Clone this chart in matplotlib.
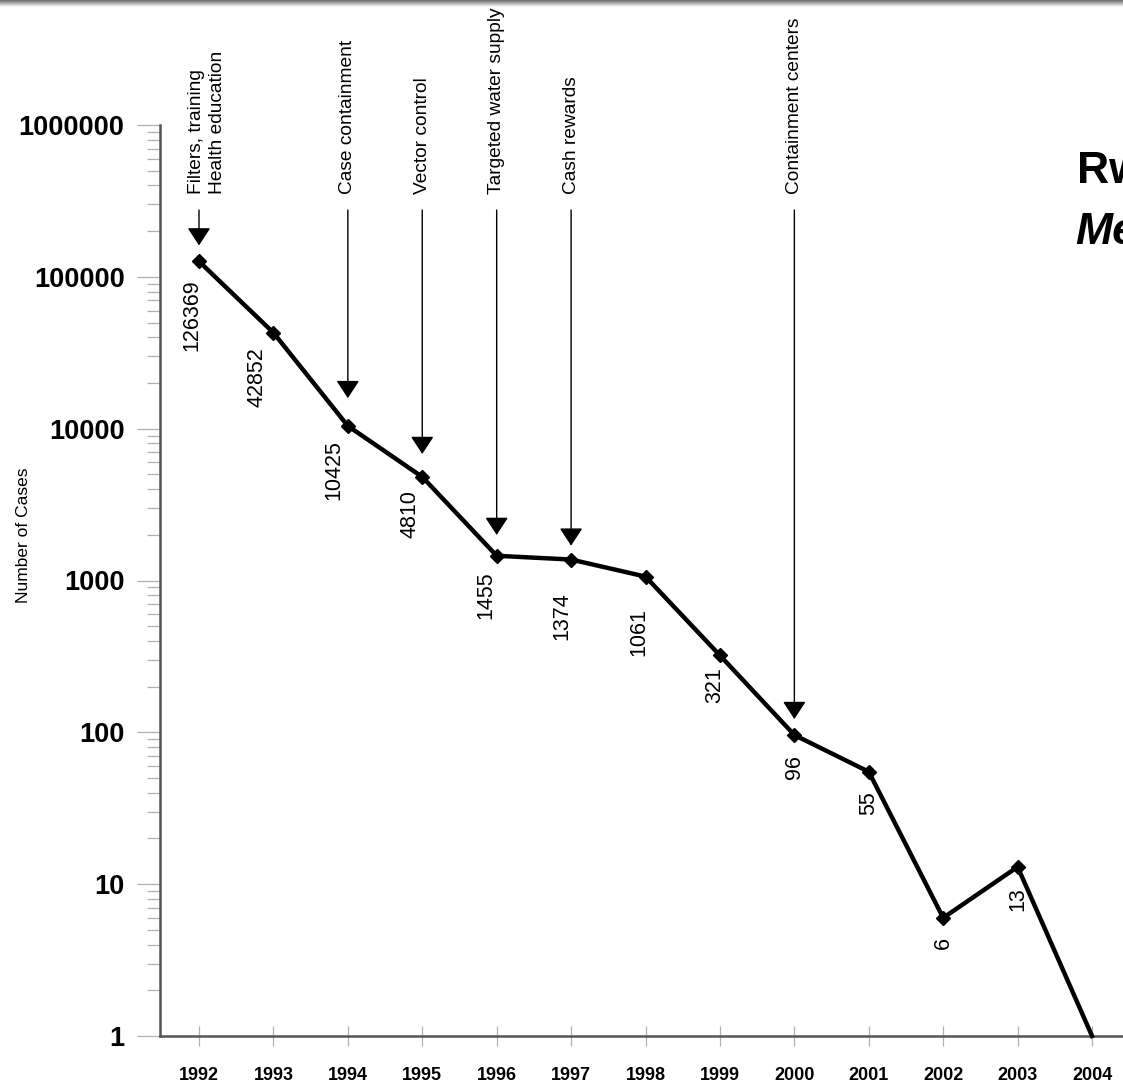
import numpy as np
import matplotlib
matplotlib.use("Agg")
import matplotlib.pyplot as plt
from matplotlib.ticker import FixedLocator, FuncFormatter, NullFormatter, LogLocator
from matplotlib.transforms import blended_transform_factory

plt.rcParams['font.family'] = ['Liberation Sans', 'DejaVu Sans']

# ---------------- data ----------------
years = [1992, 1993, 1994, 1995, 1996, 1997, 1998, 1999, 2000, 2001, 2002, 2003, 2004]
cases = [126369, 42852, 10425, 4810, 1455, 1374, 1061, 321, 96, 55, 6, 13, 1]
value_labels = ["126369", "42852", "10425", "4810", "1455", "1374", "1061",
                "321", "96", "55", "6", "13"]

intervention_years = [1992, 1994, 1995, 1996, 1997, 2000]
intervention_labels = ["Filters, training\nHealth education", "Case containment",
                       "Vector control", "Targeted water supply", "Cash rewards",
                       "Containment centers"]

y_ticks = [1, 10, 100, 1000, 10000, 100000, 1000000]
x_ticks = years

# ---------------- styling / placement ----------------
label_offsets_px = [(-7, 18), (-16, 15), (-14, 14), (-12, 13), (-11, 16), (-9, 33),
                    (-7, 32), (-5, 12), (0, 20), (0, 19), (0, 19), (0, 20)]
arrow_gap_pt = [11.5, 20, 16.5, 15, 10, 11.5]
text_shift_px = [8, 0, 0, 0, 0, 0]

W, H = 1123, 1084
fig = plt.figure(figsize=(W / 100, H / 100), dpi=100)
fig.patch.set_facecolor('white')

ax_left = 160 / W
ax_bottom = (H - 1036) / H
ax_top = (H - 125) / H
ax = fig.add_axes([ax_left, ax_bottom, 1 - ax_left, ax_top - ax_bottom])
ax.set_facecolor('white')

ax.set_yscale('log')
ax.set_ylim(1, 1000000)
ax.set_xlim(1991.476, 2004.416)

# line
ax.plot(years, cases, color='black', lw=3.2, marker='D', markersize=7,
        markevery=list(range(len(years) - 1)), clip_on=False, zorder=5,
        solid_joinstyle='miter')

# spines
for s in ['top', 'right']:
    ax.spines[s].set_visible(False)
for s in ['left', 'bottom']:
    ax.spines[s].set_color('#555555')
    ax.spines[s].set_linewidth(1.8)

# y ticks
ax.yaxis.set_major_locator(FixedLocator(y_ticks))
ax.yaxis.set_major_formatter(FuncFormatter(lambda v, p: f"{int(round(v))}"))
ax.yaxis.set_minor_locator(LogLocator(base=10, subs=np.arange(2, 10)))
ax.yaxis.set_minor_formatter(NullFormatter())
ax.tick_params(axis='y', which='major', direction='out', length=16.5, width=0.9,
               color='#b0b0b0', pad=9, labelsize=19.5)
ax.tick_params(axis='y', which='minor', direction='out', length=9.4, width=0.9,
               color='#b0b0b0')
for t in ax.get_yticklabels():
    t.set_fontweight('bold')

# x ticks
ax.xaxis.set_major_locator(FixedLocator(x_ticks))
ax.xaxis.set_major_formatter(FuncFormatter(lambda v, p: f"{int(round(v))}"))
ax.tick_params(axis='x', which='major', direction='inout', length=14.4, width=0.9,
               color='#b0b0b0', pad=15, labelsize=13)
for t in ax.get_xticklabels():
    t.set_fontweight('bold')

fig.text(24 / W, 1 - 535 / H, "Number of Cases", rotation=90, fontsize=12.5,
         ha='center', va='center')

# value labels
for yr, val, txt, (dx, dy) in zip(years, cases, value_labels, label_offsets_px):
    ax.annotate(txt, xy=(yr, val), xytext=(dx, -dy), textcoords='offset pixels',
                rotation=90, ha='center', va='top', fontsize=15.5, annotation_clip=False)

# intervention arrows and labels
blend = blended_transform_factory(ax.transData, ax.transAxes)
arrow_start = (1036 - 210) / (1036 - 125)
text_base = (1036 - 194) / (1036 - 125)
for yr, lab, gap, sh in zip(intervention_years, intervention_labels, arrow_gap_pt, text_shift_px):
    val = cases[years.index(yr)]
    ax.annotate("", xy=(yr, val), xycoords='data',
                xytext=(yr, arrow_start), textcoords=blend,
                arrowprops=dict(arrowstyle='-|>,head_length=0.55,head_width=0.36',
                                mutation_scale=20, color='black', lw=1.0,
                                shrinkA=0, shrinkB=gap),
                annotation_clip=False)
    ax.annotate(lab, xy=(yr, text_base), xycoords=blend,
                xytext=(sh, 0), textcoords='offset pixels',
                rotation=90, ha='center', va='bottom', fontsize=13.8,
                multialignment='left', linespacing=1.25, annotation_clip=False)

# partially visible title at right edge (cut by the picture's right edge)
fig.text(1077 / W, 1 - 183 / H, "Rw", fontsize=32, fontweight='bold', ha='left',
         va='baseline')
fig.text(1075 / W, 1 - 244 / H, "Me", fontsize=32, fontweight='bold', style='italic',
         ha='left', va='baseline')

# gray band at top (screen edge)
band = fig.add_axes([0, 1 - 7 / H, 1, 7 / H])
grad = np.linspace(0.42, 1.0, 32).reshape(-1, 1)
band.imshow(np.repeat(grad, 4, axis=1), cmap='gray', vmin=0, vmax=1, aspect='auto',
            extent=[0, 1, 0, 1], origin='upper')
band.axis('off')

fig.savefig("out.png", dpi=100, facecolor='white')
